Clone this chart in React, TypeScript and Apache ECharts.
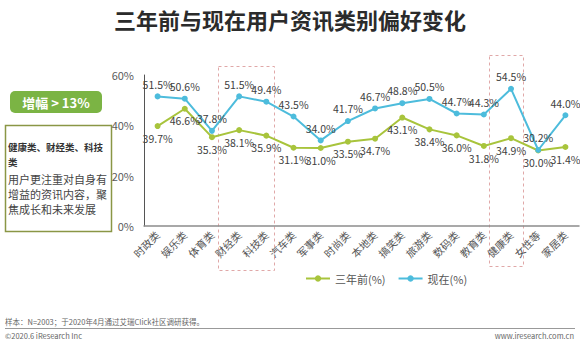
import React, { useEffect, useRef } from "react";
import * as echarts from "echarts";

const categories = ["时政类", "娱乐类", "体育类", "财经类", "科技类", "汽车类", "军事类", "时尚类", "本地类", "搞笑类", "旅游类", "数码类", "教育类", "健康类", "女性等", "家居类"];
const threeYearsAgo = [39.7, 46.6, 35.3, 38.1, 35.9, 31.1, 31.0, 33.5, 34.7, 43.1, 38.4, 36.0, 31.8, 34.9, 30.0, 31.4];
const now = [51.5, 50.6, 37.8, 51.5, 49.4, 43.5, 34.0, 41.7, 46.7, 48.8, 50.5, 44.7, 44.3, 54.5, 30.2, 44.0];
const yTicks = [0, 20, 40, 60];

const FONT = "'Noto Sans CJK SC', 'Noto Sans', sans-serif";
const pct = (p: any) => Number(p.value).toFixed(1) + "%";

export default function App() {
  const ref = useRef<HTMLDivElement>(null);
  useEffect(() => {
    document.body.style.margin = "0";
    const chart = echarts.init(ref.current!, null, { renderer: "svg" });
    chart.setOption({
      animation: false,
      backgroundColor: "#ffffff",
      textStyle: { fontFamily: FONT },
      grid: { left: 144, right: 1, top: 75, bottom: 120 },
      xAxis: {
        type: "category",
        data: categories,
        boundaryGap: true,
        axisLine: { lineStyle: { color: "#8c8c8c", width: 1.5 } },
        axisTick: { show: false },
        axisLabel: { rotate: 45, fontSize: 10.5, color: "#555", margin: 7, interval: 0, fontFamily: FONT },
      },
      yAxis: {
        type: "value",
        min: yTicks[0],
        max: yTicks[yTicks.length - 1],
        interval: 20,
        axisLine: { show: true, lineStyle: { color: "#555", width: 1 } },
        axisTick: { show: false },
        splitLine: { show: false },
        axisLabel: { formatter: "{value}%", fontSize: 11, color: "#5a5a5a", margin: 10, fontFamily: FONT },
      },
      legend: {
        left: 300,
        top: 268,
        itemWidth: 24,
        itemHeight: 8,
        itemGap: 12,
        textStyle: { fontSize: 11, color: "#555", fontFamily: FONT },
        data: ["三年前(%)", "现在(%)"],
      },
      series: [
        {
          name: "三年前(%)",
          type: "line",
          data: threeYearsAgo,
          symbol: "circle",
          symbolSize: 6,
          color: "#a8c43c",
          lineStyle: { width: 2, color: "#a8c43c" },
          label: { show: true, position: "bottom", formatter: pct, fontSize: 10.5, color: "#404040", distance: 4, fontFamily: FONT },
        },
        {
          name: "现在(%)",
          type: "line",
          data: now,
          symbol: "circle",
          symbolSize: 6,
          color: "#4dbcdc",
          lineStyle: { width: 2, color: "#4dbcdc" },
          label: { show: true, position: "top", formatter: pct, fontSize: 10.5, color: "#404040", distance: 4, fontFamily: FONT },
        },
      ],
      graphic: [
        {
          type: "text",
          left: "center",
          top: 8,
          style: { text: "三年前与现在用户资讯类别偏好变化", fontSize: 22, fontWeight: "bold", fill: "#2b2b2b", fontFamily: FONT },
        },
        {
          type: "rect",
          shape: { x: 10, y: 91, width: 92, height: 22, r: 5 },
          style: { fill: "#7bb444" },
        },
        {
          type: "text",
          x: 56,
          y: 102,
          style: { text: "增幅 > 13%", fontSize: 13, fontWeight: "bold", fill: "#fff", align: "center", verticalAlign: "middle", fontFamily: FONT },
        },
        {
          type: "rect",
          shape: { x: 5.5, y: 125.5, width: 106, height: 106 },
          style: { fill: "#fff", stroke: "#8a9645", lineWidth: 1.5 },
        },
        {
          type: "text",
          x: 8,
          y: 139,
          style: { text: "健康类、财经类、科技\n类", fontSize: 9.5, fontWeight: "bold", fill: "#333", lineHeight: 15, fontFamily: FONT },
        },
        {
          type: "text",
          x: 8,
          y: 171,
          style: { text: "用户更注重对自身有\n增益的资讯内容，聚\n焦成长和未来发展", fontSize: 11, fill: "#444", lineHeight: 15, fontFamily: FONT },
        },
        {
          type: "rect",
          shape: { x: 218.5, y: 66.5, width: 56, height: 204 },
          style: { fill: "none", stroke: "#e0a8a8", lineWidth: 1, lineDash: [3, 3] },
        },
        {
          type: "rect",
          shape: { x: 489.5, y: 55.5, width: 34, height: 211 },
          style: { fill: "none", stroke: "#e0a8a8", lineWidth: 1, lineDash: [3, 3] },
        },
        {
          type: "text",
          x: 5,
          y: 318,
          style: { text: "样本：N=2003；于2020年4月通过艾瑞Click社区调研获得。", fontSize: 7.5, fill: "#666", fontFamily: FONT },
        },
        {
          type: "line",
          shape: { x1: 5, y1: 328.5, x2: 575, y2: 328.5 },
          style: { stroke: "#999", lineWidth: 1 },
        },
        {
          type: "text",
          x: 5,
          y: 332,
          style: { text: "©2020.6 iResearch Inc", fontSize: 7.5, fill: "#666", fontFamily: FONT },
        },
        {
          type: "text",
          right: 6,
          top: 332,
          style: { text: "www.iresearch.com.cn", fontSize: 7.5, fill: "#666", fontFamily: FONT },
        },
      ],
    });
    return () => chart.dispose();
  }, []);
  return <div ref={ref} style={{ width: 580, height: 346 }} />;
}
